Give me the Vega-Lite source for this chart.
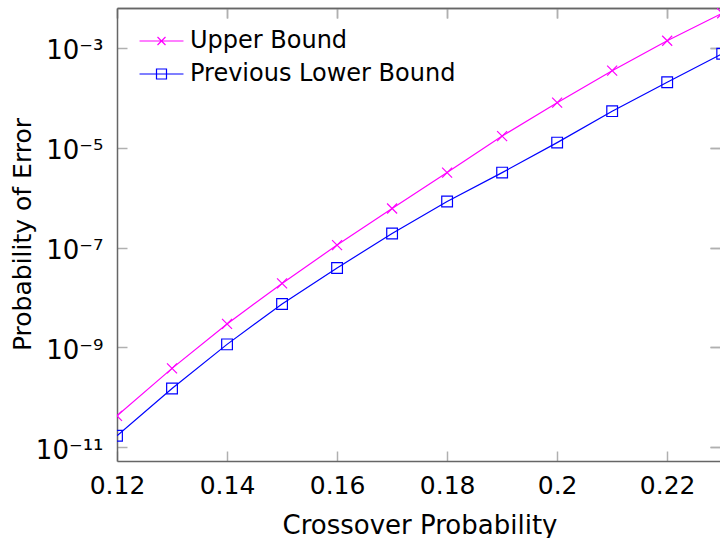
{
  "$schema": "https://vega.github.io/schema/vega-lite/v6.json",
  "width": 603,
  "height": 453,
  "autosize": {"type": "none"},
  "padding": {"left": 117, "top": 8, "right": 0, "bottom": 77},
  "background": "white",
  "config": {
    "view": {"stroke": null},
    "font": "DejaVu Sans",
    "axis": {
      "labelFont": "DejaVu Sans",
      "labelFontSize": 25,
      "labelColor": "black",
      "titleFont": "DejaVu Sans",
      "titleFontSize": 25,
      "titleFontWeight": "normal",
      "titleColor": "black",
      "domainColor": "#666666",
      "domainWidth": 1.5,
      "tickColor": "#b0b0b0",
      "tickWidth": 1.5,
      "tickSize": -10,
      "grid": false,
      "labelFlush": false,
      "labelOverlap": false
    }
  },
  "data": {
    "values": [
      {"p": 0.12, "series": "Upper Bound", "err": 4.27e-11},
      {"p": 0.13, "series": "Upper Bound", "err": 3.8e-10},
      {"p": 0.14, "series": "Upper Bound", "err": 2.95e-9},
      {"p": 0.15, "series": "Upper Bound", "err": 1.91e-8},
      {"p": 0.16, "series": "Upper Bound", "err": 1.12e-7},
      {"p": 0.17, "series": "Upper Bound", "err": 6.03e-7},
      {"p": 0.18, "series": "Upper Bound", "err": 3.16e-6},
      {"p": 0.19, "series": "Upper Bound", "err": 1.7e-5},
      {"p": 0.2, "series": "Upper Bound", "err": 7.94e-5},
      {"p": 0.21, "series": "Upper Bound", "err": 3.47e-4},
      {"p": 0.22, "series": "Upper Bound", "err": 1.38e-3},
      {"p": 0.23, "series": "Upper Bound", "err": 4.9e-3},
      {"p": 0.12, "series": "Previous Lower Bound", "err": 1.7e-11},
      {"p": 0.13, "series": "Previous Lower Bound", "err": 1.51e-10},
      {"p": 0.14, "series": "Previous Lower Bound", "err": 1.15e-9},
      {"p": 0.15, "series": "Previous Lower Bound", "err": 7.41e-9},
      {"p": 0.16, "series": "Previous Lower Bound", "err": 3.89e-8},
      {"p": 0.17, "series": "Previous Lower Bound", "err": 1.91e-7},
      {"p": 0.18, "series": "Previous Lower Bound", "err": 8.32e-7},
      {"p": 0.19, "series": "Previous Lower Bound", "err": 3.16e-6},
      {"p": 0.2, "series": "Previous Lower Bound", "err": 1.26e-5},
      {"p": 0.21, "series": "Previous Lower Bound", "err": 5.37e-5},
      {"p": 0.22, "series": "Previous Lower Bound", "err": 2.04e-4},
      {"p": 0.23, "series": "Previous Lower Bound", "err": 7.59e-4}
    ]
  },
  "layer": [
    {
      "mark": {"type": "line", "clip": true, "strokeWidth": 1.2},
      "encoding": {
        "x": {
          "field": "p", "type": "quantitative",
          "scale": {"domain": [0.12, 0.2296], "nice": false, "zero": false},
          "axis": {
            "orient": "bottom",
            "values": [0.12, 0.14, 0.16, 0.18, 0.2, 0.22],
            "format": ".2~f",
            "labelPadding": 22,
            "title": "Crossover Probability",
            "titleFontSize": 26,
            "titleX": 302.5,
            "titleY": 72,
            "titleBaseline": "alphabetic",
            "titleAlign": "center"
          }
        },
        "y": {
          "field": "err", "type": "quantitative",
          "scale": {"type": "log", "domain": [5.32e-12, 6.24e-3], "nice": false},
          "axis": {
            "orient": "left",
            "values": [1e-11, 1e-9, 1e-7, 1e-5, 1e-3],
            "labelExpr": "datum.value < 1e-10 ? '10⁻¹¹' : datum.value < 1e-8 ? '10⁻⁹' : datum.value < 1e-6 ? '10⁻⁷' : datum.value < 1e-4 ? '10⁻⁵' : '10⁻³'",
            "labelFontSize": 26,
            "labelPadding": 24,
            "labelOffset": 3,
            "title": "Probability of Error",
            "titleX": -87,
            "titleY": 226,
            "titleAngle": -90,
            "titleBaseline": "alphabetic",
            "titleAlign": "center"
          }
        },
        "color": {
          "field": "series", "type": "nominal",
          "scale": {"domain": ["Upper Bound", "Previous Lower Bound"], "range": ["#ff00ff", "#0000ff"]},
          "legend": {
            "orient": "none",
            "legendX": 32.5,
            "legendY": 21,
            "title": null,
            "padding": 0,
            "labelFont": "DejaVu Sans",
            "labelFontSize": 24,
            "labelColor": "black",
            "labelLimit": 500,
            "symbolSize": 196,
            "symbolStrokeWidth": 1.2,
            "labelOffset": 16.5,
            "rowPadding": 9,
            "encode": {
              "symbols": {
                "update": {
                  "shape": {"signal": "datum.value === 'Upper Bound' ? 'M-3.14,0H3.14M-0.57,-0.57L0.57,0.57M-0.57,0.57L0.57,-0.57' : 'M-3.14,0H3.14M-0.714,-0.714H0.714V0.714H-0.714Z'"},
                  "fill": {"value": "transparent"}
                }
              }
            }
          }
        }
      }
    },
    {
      "transform": [{"filter": "datum.series === 'Upper Bound'"}],
      "mark": {"type": "point", "clip": true, "filled": false, "strokeWidth": 1.2, "size": 100, "opacity": 1, "color": "#ff00ff", "shape": "M-1,-1L1,1M-1,1L1,-1"},
      "encoding": {
        "x": {
          "field": "p", "type": "quantitative",
          "axis": {"orient": "top", "labels": false, "title": null, "values": [0.12, 0.14, 0.16, 0.18, 0.2, 0.22]}
        },
        "y": {
          "field": "err", "type": "quantitative",
          "axis": {"orient": "right", "labels": false, "title": null, "domain": false, "values": [1e-11, 1e-9, 1e-7, 1e-5, 1e-3]}
        }
      }
    },
    {
      "transform": [{"filter": "datum.series === 'Previous Lower Bound'"}],
      "mark": {"type": "point", "clip": true, "filled": false, "strokeWidth": 1.2, "size": 115, "opacity": 1, "color": "#0000ff", "shape": "square"},
      "encoding": {
        "x": {
          "field": "p", "type": "quantitative",
          "axis": {"orient": "top", "labels": false, "title": null, "values": [0.12, 0.14, 0.16, 0.18, 0.2, 0.22]}
        },
        "y": {
          "field": "err", "type": "quantitative",
          "axis": {"orient": "right", "labels": false, "title": null, "domain": false, "values": [1e-11, 1e-9, 1e-7, 1e-5, 1e-3]}
        }
      }
    }
  ]
}
